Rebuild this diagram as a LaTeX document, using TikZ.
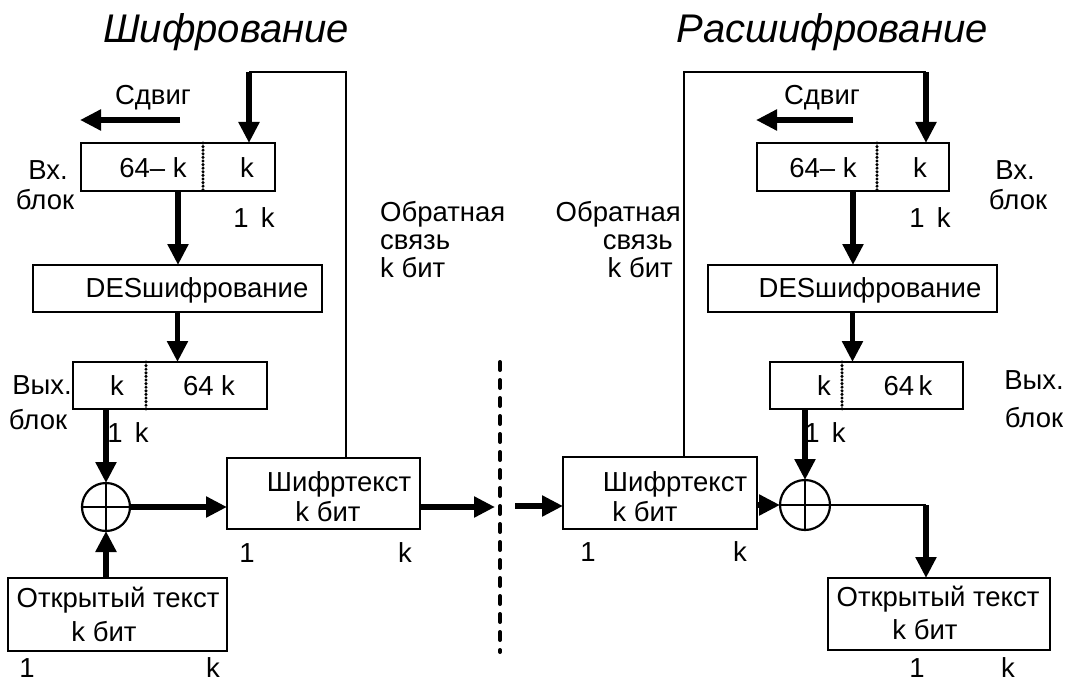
\documentclass[tikz,border=0pt]{standalone}
\usepackage{fontspec}
\setmainfont{Liberation Sans}
\usetikzlibrary{arrows.meta}
\begin{document}
\begin{tikzpicture}[x=1pt,y=-1pt,
  box/.style={draw, line width=2.2pt, inner sep=0pt, outer sep=0pt},
  adder/.style={draw, circle, line width=2.2pt, inner sep=0pt, outer sep=0pt, minimum size=48pt},
  thinline/.style={line width=2.2pt},
  flow/.style={line width=5.5pt, -{Triangle[length=21pt,width=20pt]}},
  lbl/.style={inner sep=0pt, font=\fontsize{27.5}{32}\selectfont, text height=19.7pt, text depth=0pt},
  ttl/.style={inner sep=0pt, font=\fontsize{40}{48}\selectfont\itshape, text height=28.6pt, text depth=0pt},
  splitline/.style={line width=3.4pt, line cap=round, dash pattern=on 0pt off 3.6pt},
  cutline/.style={line width=4pt, line cap=round, dash pattern=on 8pt off 10pt}]
\useasboundingbox (0,0) rectangle (1070,682);

% ---------------- encryption ----------------
\node[ttl] (titleL) at (226,28) {Шифрование};

\node[box, minimum width=194pt, minimum height=48pt] (inL) at (178,167) {};
\node[box, minimum width=289pt, minimum height=47pt] (desL) at (177.5,288.5) {};
\node[box, minimum width=194pt, minimum height=47pt] (outL) at (170,385.5) {};
\node[box, minimum width=193pt, minimum height=71pt] (ctL) at (323.5,493.5) {};
\node[box, minimum width=219pt, minimum height=73pt] (ptL) at (117.5,614.5) {};
\node[adder] (xorL) at (106,507) {};
\draw[thinline] (xorL.north) -- (xorL.south) (xorL.west) -- (xorL.east);

\draw[splitline] (203,143) -- (203,191);
\draw[splitline] (146,362) -- (146,409);

\node[lbl] (shiftLt) at (153,95) {Сдвиг};
\node[lbl] (inLa) at (48,170) {Вх.};
\node[lbl] (inLb) at (45,200) {блок};
\node[lbl] (inL1) at (153,168) {64– k};
\node[lbl] (inL2) at (247,168) {k};
\node[lbl] (inLk) at (254,218) {1 \,k};
\node[lbl] (desLt) at (197,288) {DESшифрование};
\node[lbl] (outLa) at (42,385) {Вых.};
\node[lbl] (outLb) at (38,420) {блок};
\node[lbl] (outL1) at (117,386) {k};
\node[lbl] (outL2) at (209,386) {64 k};
\node[lbl] (outLk) at (128,433) {1 \,k};
\node[lbl] (ctLa) at (339,482) {Шифртекст};
\node[lbl] (ctLb) at (328,512) {k бит};
\node[lbl] (ctL1) at (247,553) {1};
\node[lbl] (ctLk) at (405,553) {k};
\node[lbl] (ptLa) at (118,598) {Открытый текст};
\node[lbl] (ptLb) at (104,632) {k бит};
\node[lbl] (ptL1) at (27,668) {1};
\node[lbl] (ptLk) at (213,668) {k};
\node[lbl, anchor=west] (fbLa) at (380,212) {Обратная};
\node[lbl, anchor=west] (fbLb) at (380,240) {связь};
\node[lbl, anchor=west] (fbLc) at (380,268) {k бит};

\coordinate (fbL) at (346,72);
\coordinate (topL) at (249,72);
\coordinate (shiftLs) at (180,120);
\coordinate (shiftLe) at (80,120);
\coordinate (cutL) at (495,507);

\draw[thinline] (ctL.north -| fbL) -- (fbL) -- (topL);
\draw[flow] (topL) -- (topL |- inL.north);
\draw[flow] (shiftLs) -- (shiftLe);
\draw[flow] (inL.south) -- (inL.south |- desL.north);
\draw[flow] (desL.south) -- (desL.south |- outL.north);
\draw[flow] (xorL.north |- outL.south) -- (xorL.north);
\draw[flow] (xorL.south |- ptL.north) -- (xorL.south);
\draw[flow] (xorL.east) -- (xorL.east -| ctL.west);
\draw[flow] (ctL.east |- xorL.east) -- (cutL);

% ---------------- channel ----------------
\coordinate (divTop) at (500,362);
\coordinate (divBot) at (500,652);
\draw[cutline] (divTop) -- (divBot);

% ---------------- decryption ----------------
\node[ttl] (titleR) at (832,28) {Расшифрование};

\node[box, minimum width=192pt, minimum height=48pt] (inR) at (853,167) {};
\node[box, minimum width=289pt, minimum height=47pt] (desR) at (852.5,288.5) {};
\node[box, minimum width=193pt, minimum height=47pt] (outR) at (866.5,385.5) {};
\node[box, minimum width=194pt, minimum height=72pt] (ctR) at (660,493) {};
\node[box, minimum width=222pt, minimum height=72pt] (ptR) at (939,614) {};
\node[adder, minimum size=50pt] (xorR) at (805,505) {};
\draw[thinline] (xorR.north) -- (xorR.south) (xorR.west) -- (xorR.east);

\draw[splitline] (877,143) -- (877,191);
\draw[splitline] (842,362) -- (842,409);

\node[lbl] (shiftRt) at (822,95) {Сдвиг};
\node[lbl] (inRa) at (1015,170) {Вх.};
\node[lbl] (inRb) at (1018,200) {блок};
\node[lbl] (inR1) at (823,168) {64– k};
\node[lbl] (inR2) at (920,168) {k};
\node[lbl] (inRk) at (930,218) {1 \,k};
\node[lbl] (desRt) at (870,288) {DESшифрование};
\node[lbl] (outRa) at (1034,380) {Вых.};
\node[lbl] (outRb) at (1034,418) {блок};
\node[lbl] (outR1) at (824,386) {k};
\node[lbl] (outR2) at (908,386) {64\,k};
\node[lbl] (outRk) at (825,433) {1 \,k};
\node[lbl] (ctRa) at (675,482) {Шифртекст};
\node[lbl] (ctRb) at (645,512) {k бит};
\node[lbl] (ctR1) at (588,552) {1};
\node[lbl] (ctRk) at (740,552) {k};
\node[lbl] (ptRa) at (938,597) {Открытый текст};
\node[lbl] (ptRb) at (925,630) {k бит};
\node[lbl] (ptR1) at (917,668) {1};
\node[lbl] (ptRk) at (1008,668) {k};
\node[lbl, anchor=east] (fbRa) at (681,212) {Обратная};
\node[lbl, anchor=east] (fbRb) at (673,240) {связь};
\node[lbl, anchor=east] (fbRc) at (673,268) {k бит};

\coordinate (fbR) at (684,72);
\coordinate (topR) at (926,72);
\coordinate (shiftRs) at (853,120);
\coordinate (shiftRe) at (756,120);
\coordinate (cutR) at (515,506);
\coordinate (turnR) at (926,505);

\draw[thinline] (ctR.north -| fbR) -- (fbR) -- (topR);
\draw[flow] (topR) -- (topR |- inR.north);
\draw[flow] (shiftRs) -- (shiftRe);
\draw[flow] (inR.south) -- (inR.south |- desR.north);
\draw[flow] (desR.south) -- (desR.south |- outR.north);
\draw[flow] (xorR.north |- outR.south) -- (xorR.north);
\draw[flow] (cutR) -- (cutR -| ctR.west);
\draw[flow] (ctR.east |- xorR.west) -- (xorR.west);
\draw[thinline] (xorR.east) -- (turnR);
\draw[flow] (turnR) -- (turnR |- ptR.north);
\end{tikzpicture}
\end{document}
